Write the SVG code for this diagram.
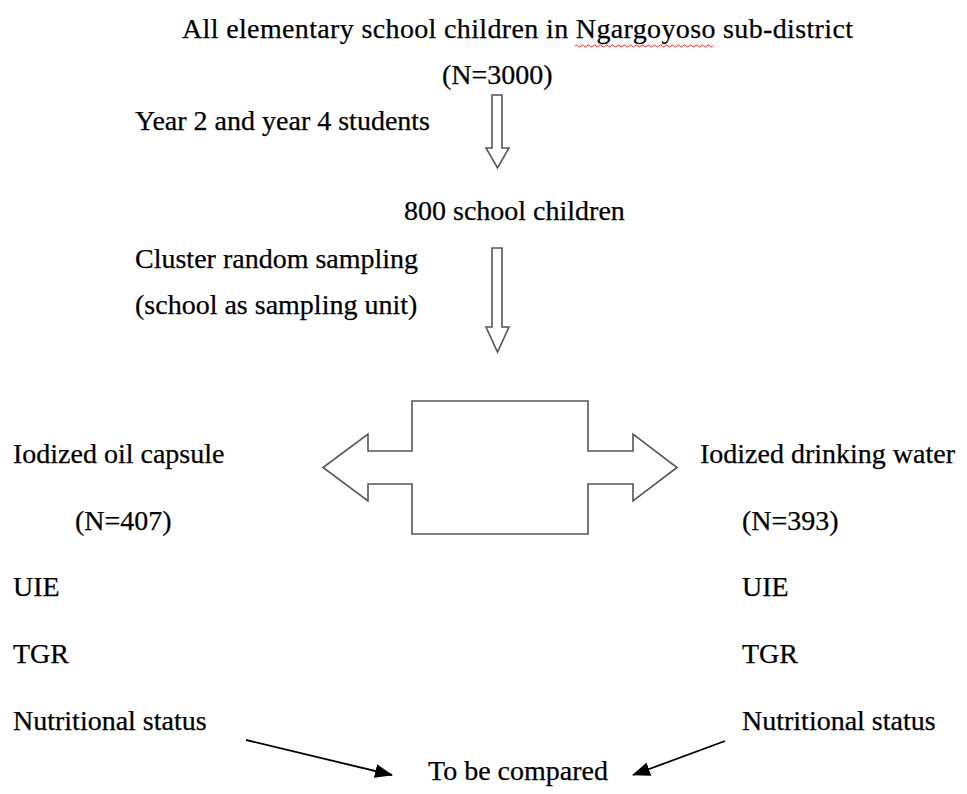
<svg xmlns="http://www.w3.org/2000/svg" width="967" height="794" viewBox="0 0 967 794">
<style>
  .t { font-family: "Liberation Serif", "Times New Roman", serif; font-size: 28px; fill: #000; stroke: #000; stroke-width: 0.25; }
  .blk { fill: #fff; stroke: #555; stroke-width: 1.6; stroke-linejoin: miter; }
  .conn { stroke: #000; stroke-width: 1.8; fill: none; }
</style>
<defs>
  <marker id="ahBig" viewBox="0 0 18 14" markerWidth="18" markerHeight="14" refX="17" refY="7" orient="auto" markerUnits="userSpaceOnUse">
    <path d="M0,0 L18,7 L0,14 Z" fill="#000"/>
  </marker>
</defs>
<rect width="967" height="794" fill="#fff"/>

<g id="title">
  <text class="t" x="182" y="38" textLength="671">All elementary school children in Ngargoyoso sub-district</text>
  <path d="M575,46 q1.5,-2 3,0 t3,0 t3,0 t3,0 t3,0 t3,0 t3,0 t3,0 t3,0 t3,0 t3,0 t3,0 t3,0 t3,0 t3,0 t3,0 t3,0 t3,0 t3,0 t3,0 t3,0 t3,0 t3,0 t3,0 t3,0 t3,0 t3,0 t3,0 t3,0 t3,0 t3,0 t3,0 t3,0 t3,0 t3,0 t3,0 t3,0 t3,0 t3,0 t3,0 t3,0 t3,0 t3,0 t3,0 t3,0 t3,0" fill="none" stroke="#e03030" stroke-width="1"/>
  <text class="t" x="442" y="84">(N=3000)</text>
</g>

<g id="step1-label">
  <text class="t" x="135" y="130">Year 2 and year 4 students</text>
</g>

<g id="sample">
  <text class="t" x="404" y="220">800 school children</text>
</g>

<g id="step2-label">
  <text class="t" x="135" y="268">Cluster random sampling</text>
  <text class="t" x="135" y="314">(school as sampling unit)</text>
</g>

<g id="split">
  <path class="blk" d="M412,401 L588,401 L588,451 L633,451 L633,434 L677,467.5 L633,501 L633,484 L588,484 L588,534 L412,534 L412,484 L368,484 L368,501 L323,467.5 L368,434 L368,451 L412,451 Z"/>
</g>

<g id="group-oil">
  <text class="t" x="13" y="463">Iodized oil capsule</text>
  <text class="t" x="75" y="530">(N=407)</text>
  <text class="t" x="13" y="596">UIE</text>
  <text class="t" x="13" y="663">TGR</text>
  <text class="t" x="13" y="730">Nutritional status</text>
</g>

<g id="group-water">
  <text class="t" x="700" y="463">Iodized drinking water</text>
  <text class="t" x="742" y="530">(N=393)</text>
  <text class="t" x="742" y="596">UIE</text>
  <text class="t" x="742" y="663">TGR</text>
  <text class="t" x="742" y="730">Nutritional status</text>
</g>

<g id="compare">
  <text class="t" x="428" y="780">To be compared</text>
</g>

<g id="connectors">
  <path class="blk" d="M492,95 L502,95 L502,148 L509,148 L497.5,168 L486,148 L492,148 Z"/>
  <path class="blk" d="M492,248 L502,248 L502,327 L509,327 L497.5,352 L486,327 L492,327 Z"/>
  <line class="conn" x1="246" y1="740" x2="392" y2="775" marker-end="url(#ahBig)"/>
  <line class="conn" x1="725" y1="741" x2="633" y2="775" marker-end="url(#ahBig)"/>
</g>
</svg>
